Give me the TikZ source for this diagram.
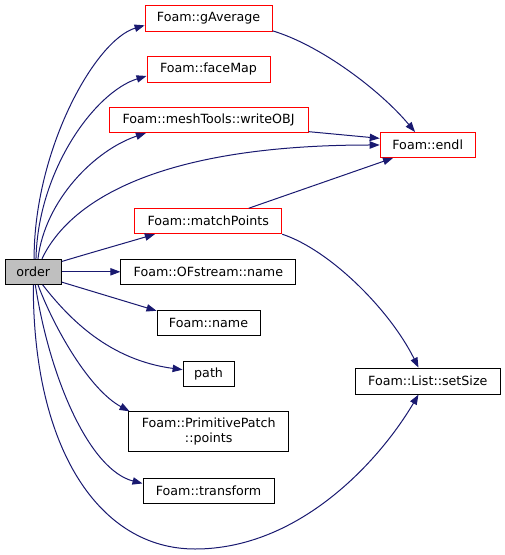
\documentclass[tikz,border=0pt]{standalone}
\usepackage{fontspec}
\setmainfont{DejaVu Sans}
\usetikzlibrary{arrows.meta}
\definecolor{edgeblue}{HTML}{191970}
\definecolor{redline}{HTML}{FF0000}
\definecolor{greyfill}{HTML}{BFBFBF}
\begin{document}
\begin{tikzpicture}[x=0.75pt,y=-0.75pt,
  box/.style={draw=black,line width=0.75pt,inner sep=0pt,font=\fontsize{9.5pt}{11.5pt}\selectfont,minimum height=18.75pt,fill=white},
  redbox/.style={box,draw=redline},
  edge/.style={draw=edgeblue,line width=0.75pt,-{Triangle[length=7.5pt,width=5.5pt]}}]
\useasboundingbox (0,0) rectangle (505,555);
\node[box,fill=greyfill,minimum width=42pt] (order) at (33.3,271.8) {order};
\node[redbox,minimum width=95.25pt,minimum height=19.5pt] (gavg) at (208.6,18.7) {Foam::gAverage};
\node[redbox,minimum width=92.25pt,minimum height=19.5pt] (fmap) at (208.5,69.3) {Foam::faceMap};
\node[redbox,minimum width=149.25pt] (wobj) at (208.6,120) {Foam::meshTools::writeOBJ};
\node[redbox,minimum width=71.25pt] (endl) at (427.7,145) {Foam::endl};
\node[redbox,minimum width=110.25pt] (mpts) at (208.2,221.2) {Foam::matchPoints};
\node[box,minimum width=131.25pt] (ofname) at (208.4,271.8) {Foam::OFstream::name};
\node[box,minimum width=77.25pt] (fname) at (208.5,322.7) {Foam::name};
\node[box,minimum width=38.25pt] (path) at (208.6,373.7) {path};
\node[box,minimum width=120pt,minimum height=30pt,align=center] (ppts) at (208.7,431.8) {Foam::PrimitivePatch\\::points};
\node[box,minimum width=98.25pt] (trans) at (208.5,490.5) {Foam::transform};
\node[box,minimum width=108.75pt,minimum height=19.5pt] (setsize) at (427.8,381.1) {Foam::List::setSize};
% edges from order upward
\draw[edge] ([xshift=0.6pt]order.north) .. controls (34,150) and (95,40) .. ([yshift=-5pt]gavg.west);
\draw[edge] ([xshift=2pt]order.north) .. controls (38,170) and (95,92) .. ([yshift=-5pt]fmap.west);
\draw[edge] ([xshift=3.5pt]order.north) .. controls (45,200) and (95,150) .. ([xshift=28pt]wobj.south west);
\draw[edge] ([xshift=6.5pt]order.north) .. controls (70,200) and (160,145) .. (endl.west);
\draw[edge] ([yshift=-2pt]order.north east) .. controls (90,253) and (125,243) .. ([xshift=15.5pt]mpts.south west);
\draw[edge] (order.east) -- (ofname.west);
\draw[edge] ([yshift=2pt]order.south east) -- ([yshift=-0.8pt]fname.north west);
\draw[edge] ([xshift=7pt]order.south) .. controls (70,320) and (110,360) .. ([yshift=3pt]path.west);
\draw[edge] ([xshift=3.5pt]order.south) .. controls (55,330) and (90,390) .. ([xshift=1pt]ppts.north west);
\draw[edge] ([xshift=1.5pt]order.south) .. controls (50,380) and (90,470) .. ([yshift=5.3pt]trans.west);
\draw[edge] (order.south) .. controls (33,450) and (100,549) .. (195,549) .. controls (300,549) and (380,460) .. ([xshift=-7pt]setsize.south);
% other edges
\draw[edge] ([yshift=1pt]gavg.south east) .. controls (320,45) and (380,90) .. ([xshift=-9.5pt]endl.north);
\draw[edge] ([yshift=1pt]wobj.south east) -- ([yshift=5pt]endl.west);
\draw[edge] ([xshift=86pt]mpts.north west) -- ([xshift=10pt]endl.south west);
\draw[edge] (mpts.south east) .. controls (330,250) and (390,310) .. ([xshift=-7pt]setsize.north);
\end{tikzpicture}
\end{document}
